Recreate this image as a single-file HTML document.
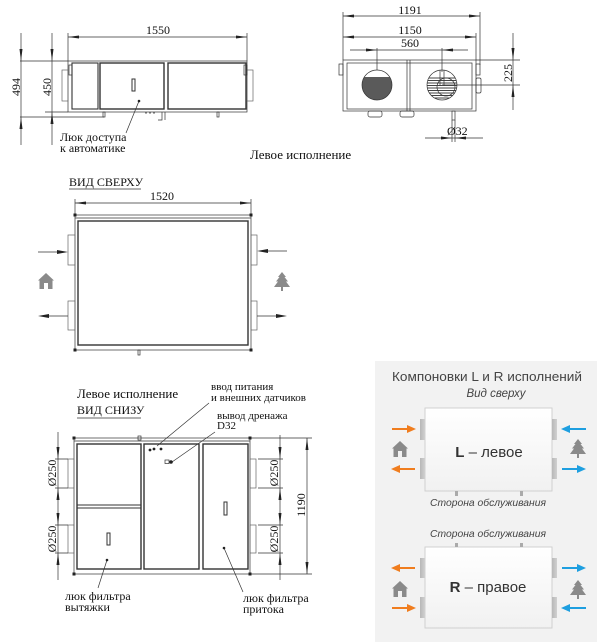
<!DOCTYPE html>
<html><head><meta charset="utf-8">
<style>
html,body{margin:0;padding:0;background:#fff;width:600px;height:643px;overflow:hidden}
svg{display:block}
</style></head>
<body>
<svg width="600" height="643" viewBox="0 0 600 643" xmlns="http://www.w3.org/2000/svg">
<defs>
  <path id="house" d="M8,0 L16,7.5 L14.5,7.5 L14.5,16 L1.5,16 L1.5,7.5 L0,7.5 Z"/>
  <path id="tree" d="M8,0 L12,5 L10.5,5 L14,9.5 L12,9.5 L16,15 L9,15 L9,19 L7,19 L7,15 L0,15 L4,9.5 L2,9.5 L5.5,5 L4,5 Z"/>
  <clipPath id="c1"><circle cx="377" cy="85" r="15"/></clipPath>
  <clipPath id="c2"><circle cx="442" cy="85" r="15"/></clipPath>
  <linearGradient id="boxg" x1="0" y1="0" x2="0" y2="1">
    <stop offset="0" stop-color="#ffffff"/><stop offset="1" stop-color="#f1f1f1"/>
  </linearGradient>
  <linearGradient id="cong" x1="0" y1="0" x2="1" y2="0">
    <stop offset="0" stop-color="#b8b8b8"/><stop offset="1" stop-color="#d0d0d0"/>
  </linearGradient>
</defs>

<!-- ================= TOP-LEFT VIEW ================= -->
<g stroke="#333" stroke-width="0.7" fill="none">
  <path d="M68,33 V61 M247,33 V61 M68,37 H247"/>
  <path d="M20,61 H68 M20,117 H104 M45,112 H68 M21,33 V145 M52,33 V145"/>
  <rect x="68" y="61" width="179" height="51"/>
  <rect x="72" y="63" width="26" height="46" stroke-width="1.1"/>
  <rect x="100" y="63" width="64" height="46" stroke-width="1.4"/>
  <rect x="168" y="63" width="78" height="46" stroke-width="1.4"/>
  <rect x="62" y="70" width="6" height="31" stroke="#666"/>
  <rect x="247" y="70" width="6" height="31" stroke="#666"/>
  <rect x="69" y="65" width="3" height="10"/>
  <rect x="244" y="65" width="3" height="10"/>
  <rect x="132" y="79" width="3" height="12" stroke-width="1"/>
  <rect x="103" y="112" width="2" height="5"/>
  <rect x="217" y="112" width="2" height="5"/>
  <path d="M162,112 V120 H158 M165,112 V120"/>
  <path d="M145,113 H147 M149,113 H151 M153,113 H155"/>
  <path d="M139,101 L126,133"/>
</g>
<g fill="#222">
  <polygon points="68,37 79,35.5 79,38.5"/>
  <polygon points="247,37 236,35.5 236,38.5"/>
  <polygon points="21,61 19.5,49 22.5,49"/>
  <polygon points="21,117 19.5,129 22.5,129"/>
  <polygon points="52,61 50.5,49 53.5,49"/>
  <polygon points="52,112 50.5,124 53.5,124"/>
  <circle cx="139" cy="101" r="1.3"/>
</g>
<g font-family="'Liberation Serif', serif" font-size="12" fill="#111">
  <text x="158" y="34" text-anchor="middle">1550</text>
  <text transform="translate(20,87) rotate(-90)" text-anchor="middle">494</text>
  <text transform="translate(51,87) rotate(-90)" text-anchor="middle">450</text>
  <text x="60" y="141">Люк доступа</text>
  <text x="60" y="152">к автоматике</text>
</g>

<!-- ================= TOP-RIGHT VIEW ================= -->
<g stroke="#333" stroke-width="0.7" fill="none">
  <path d="M343,12 V60 M480,12 V65 M476,33 V60"/>
  <path d="M343,16 H480 M343,37 H476 M350,50 H468"/>
  <path d="M377,48 V72 M442,48 V72"/>
  <rect x="343" y="60" width="133" height="51"/>
  <rect x="347" y="63" width="125" height="46"/>
  <path d="M407,60 V111 M410,60 V111"/>
  <path d="M476,60 H520 M442,85 H520 M513,33 V110"/>
  <path d="M425,138 H483 M452,120 V142 M455,120 V142"/>
  <rect x="339" y="64" width="4" height="11"/>
  <rect x="476" y="64" width="4" height="11"/>
  <rect x="476" y="78" width="5" height="15" rx="1.5"/>
  <rect x="368" y="111" width="14" height="6" rx="2"/>
  <rect x="400" y="111" width="14" height="6" rx="2"/>
  <rect x="452" y="111" width="3" height="9"/>
</g>
<g clip-path="url(#c1)">
  <rect x="360" y="68" width="35" height="35" fill="#5a5a5a"/>
  <rect x="360" y="68" width="35" height="9" fill="#fff"/>
</g>
<circle cx="377" cy="85" r="15" fill="none" stroke="#333" stroke-width="0.7"/>
<g clip-path="url(#c2)" stroke="#444" stroke-width="1">
  <path d="M425,78 H460 M425,80.5 H460 M425,83 H460 M425,85.5 H460 M425,88 H460 M425,90.5 H460 M425,93 H460 M425,95.5 H460 M425,98 H460"/>
</g>
<g fill="none" stroke="#333" stroke-width="0.7">
  <circle cx="442" cy="85" r="15"/>
  <circle cx="446" cy="87" r="9"/>
  <path d="M440,70 V86 M444,70 V86"/>
</g>
<g fill="#222">
  <polygon points="343,16 354,14.5 354,17.5"/>
  <polygon points="480,16 469,14.5 469,17.5"/>
  <polygon points="343,37 354,35.5 354,38.5"/>
  <polygon points="476,37 465,35.5 465,38.5"/>
  <polygon points="377,50 366,48.5 366,51.5"/>
  <polygon points="442,50 453,48.5 453,51.5"/>
  <polygon points="513,60 511.5,48 514.5,48"/>
  <polygon points="513,85 511.5,97 514.5,97"/>
  <polygon points="452,138 441,136.5 441,139.5"/>
  <polygon points="455,138 466,136.5 466,139.5"/>
</g>
<g font-family="'Liberation Serif', serif" font-size="12" fill="#111">
  <text x="410" y="14" text-anchor="middle">1191</text>
  <text x="410" y="34" text-anchor="middle">1150</text>
  <text x="410" y="47" text-anchor="middle">560</text>
  <text transform="translate(512,73) rotate(-90)" text-anchor="middle">225</text>
  <text x="447" y="135">Ø32</text>
  <text x="250" y="159" font-size="13">Левое исполнение</text>
</g>

<!-- ================= MIDDLE (TOP VIEW) ================= -->
<g stroke="#333" stroke-width="0.7" fill="none">
  <path d="M69,189 H141"/>
  <path d="M75,199 V215 M251,199 V215 M75,203 H251"/>
  <rect x="75" y="215" width="176" height="135"/>
  <path d="M75,218 H251"/>
  <rect x="78" y="221" width="170" height="124" stroke-width="1.4"/>
  <rect x="68" y="235" width="7" height="30" stroke="#666"/>
  <rect x="68" y="301" width="7" height="29" stroke="#666"/>
  <rect x="251" y="235" width="6" height="30" stroke="#666"/>
  <rect x="251" y="301" width="6" height="29" stroke="#666"/>
  <path d="M38,252 H60 M46,316 H68 M265,251 H287 M257,316 H279"/>
  <rect x="138" y="350" width="2" height="5"/>
</g>
<g fill="#222">
  <rect x="73.5" y="213.5" width="3" height="3"/>
  <rect x="249.5" y="213.5" width="3" height="3"/>
  <rect x="73.5" y="348.5" width="3" height="3"/>
  <rect x="249.5" y="348.5" width="3" height="3"/>
  <polygon points="75,203 86,201.5 86,204.5"/>
  <polygon points="251,203 240,201.5 240,204.5"/>
  <polygon points="68,252 57,250 57,254"/>
  <polygon points="38,316 49,314 49,318"/>
  <polygon points="257,251 268,249 268,253"/>
  <polygon points="287,316 276,314 276,318"/>
</g>
<use href="#house" x="38" y="273" fill="#8a8a8a"/>
<rect x="44" y="283" width="4" height="6" fill="#fff"/>
<use href="#tree" x="274" y="272" fill="#8a8a8a"/>
<g font-family="'Liberation Serif', serif" font-size="12" fill="#111">
  <text x="69" y="186">ВИД СВЕРХУ</text>
  <text x="162" y="200" text-anchor="middle">1520</text>
</g>

<!-- ================= BOTTOM VIEW ================= -->
<g stroke="#333" stroke-width="0.7" fill="none">
  <path d="M77,418 H141"/>
  <rect x="74" y="438" width="176" height="136"/>
  <path d="M74,441 H250"/>
  <rect x="77" y="444" width="64" height="125" stroke-width="1.4"/>
  <path d="M77,505 H141 M77,508 H141" stroke-width="1.1"/>
  <rect x="144" y="444" width="55" height="125" stroke-width="1.4"/>
  <rect x="203" y="444" width="45" height="125" stroke-width="1.4"/>
  <rect x="68" y="459" width="6" height="29" stroke="#666"/>
  <rect x="68" y="525" width="6" height="28" stroke="#666"/>
  <rect x="250" y="459" width="6" height="29" stroke="#666"/>
  <rect x="250" y="525" width="6" height="28" stroke="#666"/>
  <rect x="107" y="533" width="3" height="12" stroke-width="1"/>
  <rect x="224" y="502" width="3" height="13" stroke-width="1"/>
  <rect x="138" y="436" width="3" height="4"/>
  <!-- left dims -->
  <path d="M58,432 V580 M55,459 H68 M55,488 H68 M55,525 H68 M55,553 H68"/>
  <!-- right dims -->
  <path d="M280,435 V580 M258,459 H283 M258,488 H283 M258,525 H283 M258,553 H283"/>
  <path d="M307,438 V574 M250,438 H312 M250,574 H312"/>
  <!-- leaders -->
  <path d="M107,560 L98,588 M224,548 L243,592 M157,446 L209,403 M172,462 L215,432"/>
  <rect x="165" y="460" width="4" height="3.5"/>
</g>
<g fill="#222">
  <rect x="72.5" y="436.5" width="3" height="3"/>
  <rect x="248.5" y="436.5" width="3" height="3"/>
  <rect x="72.5" y="572.5" width="3" height="3"/>
  <rect x="248.5" y="572.5" width="3" height="3"/>
  <polygon points="58,459 56.5,447 59.5,447"/>
  <polygon points="58,488 56.5,500 59.5,500"/>
  <polygon points="58,525 56.5,513 59.5,513"/>
  <polygon points="58,553 56.5,565 59.5,565"/>
  <polygon points="280,459 278.5,447 281.5,447"/>
  <polygon points="280,488 278.5,500 281.5,500"/>
  <polygon points="280,525 278.5,513 281.5,513"/>
  <polygon points="280,553 278.5,565 281.5,565"/>
  <polygon points="307,438 305.5,450 308.5,450"/>
  <polygon points="307,574 305.5,562 308.5,562"/>
  <circle cx="107" cy="560" r="1.3"/>
  <circle cx="224" cy="548" r="1.3"/>
  <circle cx="150" cy="450" r="1.4"/>
  <circle cx="154" cy="449" r="1.4"/>
  <circle cx="161" cy="449" r="1.4"/>
  <circle cx="171" cy="462" r="1.8"/>
</g>
<g font-family="'Liberation Serif', serif" font-size="12" fill="#111">
  <text x="77" y="398" font-size="13">Левое исполнение</text>
  <text x="77" y="414">ВИД СНИЗУ</text>
  <text x="211" y="390" font-size="11">ввод питания</text>
  <text x="211" y="401" font-size="11">и внешних датчиков</text>
  <text x="217" y="419" font-size="11">вывод дренажа</text>
  <text x="217" y="429" font-size="11">D32</text>
  <text transform="translate(56,473) rotate(-90)" text-anchor="middle">Ø250</text>
  <text transform="translate(56,539) rotate(-90)" text-anchor="middle">Ø250</text>
  <text transform="translate(278,473) rotate(-90)" text-anchor="middle">Ø250</text>
  <text transform="translate(278,539) rotate(-90)" text-anchor="middle">Ø250</text>
  <text transform="translate(305,505) rotate(-90)" text-anchor="middle">1190</text>
  <text x="65" y="600">люк фильтра</text>
  <text x="65" y="611">вытяжки</text>
  <text x="243" y="602">люк фильтра</text>
  <text x="243" y="613">притока</text>
</g>

<!-- ================= RIGHT PANEL ================= -->
<rect x="375" y="361" width="222" height="281" fill="#f2f2f2"/>
<g font-family="'Liberation Sans', sans-serif" fill="#444">
  <text x="487" y="381" text-anchor="middle" font-size="13" textLength="190" lengthAdjust="spacingAndGlyphs">Компоновки L и R исполнений</text>
  <text x="496" y="397" text-anchor="middle" font-size="11.5" font-style="italic">Вид сверху</text>
  <text x="488" y="506" text-anchor="middle" font-size="10.5" font-style="italic" textLength="116" lengthAdjust="spacingAndGlyphs">Сторона обслуживания</text>
  <text x="488" y="537" text-anchor="middle" font-size="10.5" font-style="italic" textLength="116" lengthAdjust="spacingAndGlyphs">Сторона обслуживания</text>
</g>
<!-- L box -->
<rect x="425" y="408" width="127" height="83" fill="url(#boxg)" stroke="#d0d0d0" stroke-width="1"/>
<rect x="420" y="419" width="5" height="21" fill="url(#cong)"/>
<rect x="420" y="458" width="5" height="21" fill="url(#cong)"/>
<rect x="552" y="419" width="5" height="21" fill="url(#cong)"/>
<rect x="552" y="458" width="5" height="21" fill="url(#cong)"/>
<rect x="455" y="491" width="3" height="5" fill="#aaa"/>
<rect x="520" y="491" width="3" height="5" fill="#aaa"/>
<text x="489" y="457" text-anchor="middle" font-family="'Liberation Sans', sans-serif" font-size="15" fill="#333"><tspan font-weight="bold">L</tspan> – левое</text>
<!-- R box -->
<rect x="425" y="547" width="127" height="81" fill="url(#boxg)" stroke="#d0d0d0" stroke-width="1"/>
<rect x="420" y="558" width="5" height="20" fill="url(#cong)"/>
<rect x="420" y="597" width="5" height="21" fill="url(#cong)"/>
<rect x="552" y="558" width="5" height="20" fill="url(#cong)"/>
<rect x="552" y="597" width="5" height="21" fill="url(#cong)"/>
<rect x="455" y="543" width="3" height="4" fill="#aaa"/>
<rect x="520" y="543" width="3" height="4" fill="#aaa"/>
<text x="488" y="592" text-anchor="middle" font-family="'Liberation Sans', sans-serif" font-size="15" fill="#333"><tspan font-weight="bold">R</tspan> – правое</text>
<!-- arrows -->
<g stroke-width="2">
  <path d="M392,429 H410 M397,469 H415 M397,568 H415 M392,608 H410" stroke="#f07d1e"/>
  <path d="M567,429 H586 M562,469 H580 M562,568 H580 M567,608 H586" stroke="#1e9fe0"/>
</g>
<g fill="#f07d1e">
  <polygon points="416,429 407,425 407,433"/>
  <polygon points="391,469 400,465 400,473"/>
  <polygon points="391,568 400,564 400,572"/>
  <polygon points="416,608 407,604 407,612"/>
</g>
<g fill="#1e9fe0">
  <polygon points="561,429 570,425 570,433"/>
  <polygon points="586,469 577,465 577,473"/>
  <polygon points="586,568 577,564 577,572"/>
  <polygon points="561,608 570,604 570,612"/>
</g>
<use href="#house" x="392" y="441" fill="#8a8a8a"/>
<rect x="398" y="451" width="4" height="6" fill="#f2f2f2"/>
<use href="#tree" x="570" y="439" fill="#8a8a8a"/>
<use href="#house" x="392" y="581" fill="#8a8a8a"/>
<rect x="398" y="591" width="4" height="6" fill="#f2f2f2"/>
<use href="#tree" x="570" y="580" fill="#8a8a8a"/>
</svg>
</body></html>
